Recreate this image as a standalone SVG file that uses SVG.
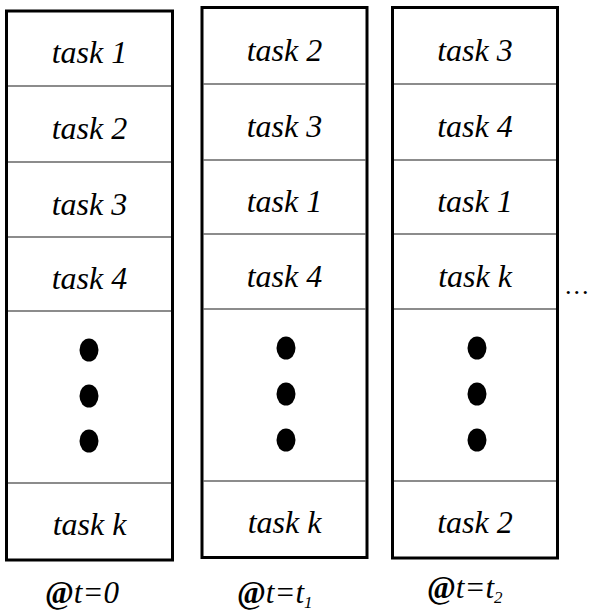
<svg xmlns="http://www.w3.org/2000/svg" width="602" height="612" viewBox="0 0 602 612">
  <style>
    .frame { fill: #ffffff; stroke: #000000; stroke-width: 3; }
    .div { stroke: #1a1a1a; stroke-width: 1.2; }
    .lbl { font-size: 32px; text-anchor: middle; }
    .cap { font-size: 31px; }
    .dot { fill: #000; }
  </style>

  <!-- queue at t = 0 -->
  <g id="queue-t0">
    <rect class="frame" x="6.5" y="11" width="166" height="549"/>
    <line class="div" x1="8" y1="86" x2="171" y2="86"/>
    <line class="div" x1="8" y1="162" x2="171" y2="162"/>
    <line class="div" x1="8" y1="237" x2="171" y2="237"/>
    <line class="div" x1="8" y1="311" x2="171" y2="311"/>
    <line class="div" x1="8" y1="483" x2="171" y2="483"/>
    <text class="lbl" x="89.5" y="63" font-family="Times New Roman" font-style="italic">task 1</text>
    <text class="lbl" x="89.5" y="139" font-family="Times New Roman" font-style="italic">task 2</text>
    <text class="lbl" x="89.5" y="215" font-family="Times New Roman" font-style="italic">task 3</text>
    <text class="lbl" x="89.5" y="289" font-family="Times New Roman" font-style="italic">task 4</text>
    <ellipse class="dot" cx="89" cy="350" rx="9.5" ry="11.5"/>
    <ellipse class="dot" cx="89" cy="396" rx="9.5" ry="11.5"/>
    <ellipse class="dot" cx="89" cy="441" rx="9.5" ry="11.5"/>
    <text class="lbl" x="89.5" y="535" font-family="Times New Roman" font-style="italic">task k</text>
  </g>

  <!-- queue at t = t1 -->
  <g id="queue-t1">
    <rect class="frame" x="202" y="7.5" width="165" height="550"/>
    <line class="div" x1="203.5" y1="84" x2="365.5" y2="84"/>
    <line class="div" x1="203.5" y1="160" x2="365.5" y2="160"/>
    <line class="div" x1="203.5" y1="234" x2="365.5" y2="234"/>
    <line class="div" x1="203.5" y1="309" x2="365.5" y2="309"/>
    <line class="div" x1="203.5" y1="481" x2="365.5" y2="481"/>
    <text class="lbl" x="284.5" y="61" font-family="Times New Roman" font-style="italic">task 2</text>
    <text class="lbl" x="284.5" y="137" font-family="Times New Roman" font-style="italic">task 3</text>
    <text class="lbl" x="284.5" y="212" font-family="Times New Roman" font-style="italic">task 1</text>
    <text class="lbl" x="284.5" y="287" font-family="Times New Roman" font-style="italic">task 4</text>
    <ellipse class="dot" cx="286" cy="348" rx="9.5" ry="11.5"/>
    <ellipse class="dot" cx="286" cy="394" rx="9.5" ry="11.5"/>
    <ellipse class="dot" cx="286" cy="440" rx="9.5" ry="11.5"/>
    <text class="lbl" x="284.5" y="533" font-family="Times New Roman" font-style="italic">task k</text>
  </g>

  <!-- queue at t = t2 -->
  <g id="queue-t2">
    <rect class="frame" x="392.5" y="7.5" width="165" height="550.5"/>
    <line class="div" x1="394" y1="84" x2="556" y2="84"/>
    <line class="div" x1="394" y1="160" x2="556" y2="160"/>
    <line class="div" x1="394" y1="234" x2="556" y2="234"/>
    <line class="div" x1="394" y1="309" x2="556" y2="309"/>
    <line class="div" x1="394" y1="481" x2="556" y2="481"/>
    <text class="lbl" x="475" y="61" font-family="Times New Roman" font-style="italic">task 3</text>
    <text class="lbl" x="475" y="137" font-family="Times New Roman" font-style="italic">task 4</text>
    <text class="lbl" x="475" y="212" font-family="Times New Roman" font-style="italic">task 1</text>
    <text class="lbl" x="475" y="287" font-family="Times New Roman" font-style="italic">task k</text>
    <ellipse class="dot" cx="477" cy="348" rx="9.5" ry="11.5"/>
    <ellipse class="dot" cx="477" cy="394" rx="9.5" ry="11.5"/>
    <ellipse class="dot" cx="477" cy="440" rx="9.5" ry="11.5"/>
    <text class="lbl" x="475" y="533" font-family="Times New Roman" font-style="italic">task 2</text>
  </g>

  <!-- continuation mark -->
  <text x="565" y="294" font-family="Times New Roman" font-size="26" letter-spacing="2">...</text>

  <!-- time captions -->
  <g id="captions">
    <text class="cap" x="45" y="603" font-family="Times New Roman"><tspan font-weight="bold">@</tspan><tspan font-style="italic">t=0</tspan></text>
    <text class="cap" x="237" y="603" font-family="Times New Roman"><tspan font-weight="bold">@</tspan><tspan font-style="italic">t=t</tspan><tspan font-style="italic" font-size="17" dy="5">1</tspan></text>
    <text class="cap" x="427" y="598" font-family="Times New Roman"><tspan font-weight="bold">@</tspan><tspan font-style="italic">t=t</tspan><tspan font-style="italic" font-size="17" dy="5">2</tspan></text>
  </g>
</svg>
